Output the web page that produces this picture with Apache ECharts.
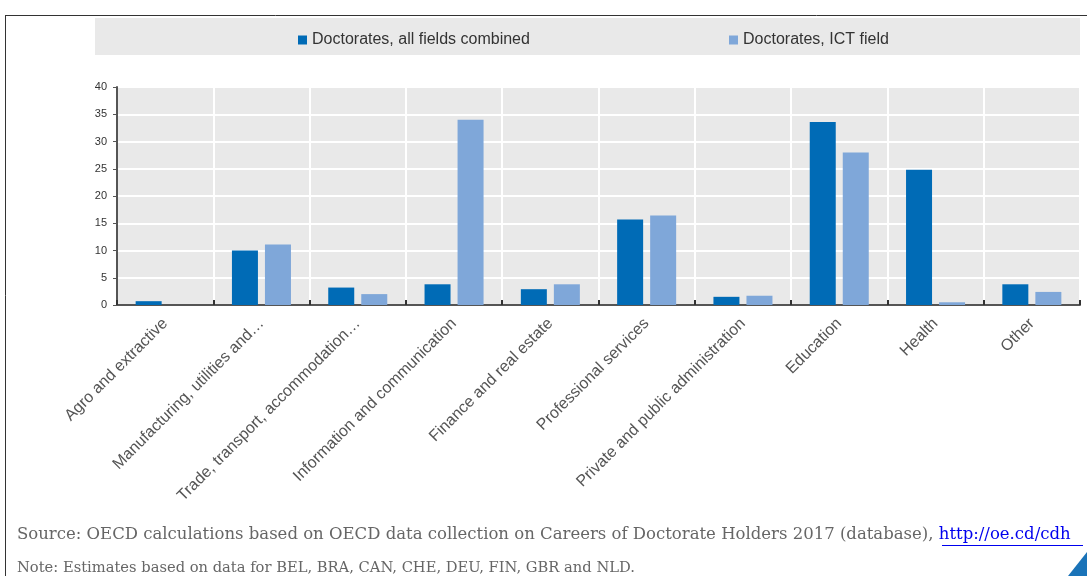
<!DOCTYPE html>
<html><head><meta charset="utf-8">
<script src="https://cdn.jsdelivr.net/npm/echarts@6/dist/echarts.min.js"></script>
<style>html,body{margin:0;padding:0;background:#fff}#c{width:1087px;height:576px}</style>
</head><body><div id="c"></div>
<script>
const categories = ["Agro and extractive","Manufacturing, utilities and\u2026","Trade, transport, accommodation\u2026","Information and communication","Finance and real estate","Professional services","Private and public administration","Education","Health","Other"];
const allFields = [0.7, 10.0, 3.2, 3.8, 2.9, 15.7, 1.5, 33.6, 24.8, 3.8];
const ictField = [0, 11.1, 2.0, 34.0, 3.8, 16.4, 1.7, 28.0, 0.5, 2.4];
const yTicks = [0, 5, 10, 15, 20, 25, 30, 35, 40];
const seriesNames = ["Doctorates, all fields combined", "Doctorates, ICT field"];

const chart = echarts.init(document.getElementById('c'), null, {renderer: 'canvas'});
const narrow = "'Liberation Sans Narrow','Arial Narrow','Liberation Sans',Arial,sans-serif";
chart.setOption({
  animation: false,
  backgroundColor: '#fff',
  graphic: [
    {type: 'line', shape: {x1: 5, y1: 15.5, x2: 1087, y2: 15.5}, style: {stroke: '#333', lineWidth: 1}},
    {type: 'line', shape: {x1: 5.5, y1: 15, x2: 5.5, y2: 576}, style: {stroke: '#333', lineWidth: 1}},
    {type: 'rect', shape: {x: 95, y: 18, width: 985, height: 37}, style: {fill: '#e9e9e9'}, z: -10},
    {type: 'text', left: 17, top: 526, style: {
      rich: {a: {fill: '#666', font: "16.5px 'DejaVu Serif', Georgia, serif"}, b: {fill: '#0000ee', font: "16.5px 'DejaVu Serif', Georgia, serif", textDecoration: 'underline'}},
      text: '{a|Source: OECD calculations based on OECD data collection on Careers of Doctorate Holders 2017 (database), }{b|http://oe.cd/cdh}'
    }},
    {type: 'line', shape: {x1: 942, y1: 545.5, x2: 1083, y2: 545.5}, style: {stroke: '#0000ee', lineWidth: 1}},
    {type: 'text', left: 17, top: 561, style: {fill: '#666', font: "14.7px 'DejaVu Serif', Georgia, serif", text: 'Note: Estimates based on data for BEL, BRA, CAN, CHE, DEU, FIN, GBR and NLD.'}},
    {type: 'polygon', shape: {points: [[1087, 552], [1087, 576], [1068, 576]]}, style: {fill: '#1a73b8'}}
  ],
  legend: [
    {data: [seriesNames[0]], left: 293, top: 27, itemWidth: 9, itemHeight: 9, icon: 'rect', itemGap: 6,
     textStyle: {fontFamily: narrow, fontSize: 16, color: '#333'}},
    {data: [seriesNames[1]], left: 724, top: 27, itemWidth: 9, itemHeight: 9, icon: 'rect', itemGap: 6,
     textStyle: {fontFamily: narrow, fontSize: 16, color: '#333'}}
  ],
  grid: {left: 117, right: 7, top: 87, bottom: 271, backgroundColor: '#e9e9e9', show: true, borderWidth: 0},
  xAxis: {
    type: 'category', data: categories,
    axisLine: {lineStyle: {color: '#555', width: 2}},
    axisTick: {show: true, inside: true, length: 5, lineStyle: {color: '#333', width: 2}},
    splitLine: {show: true, lineStyle: {color: '#fff', width: 2}},
    axisLabel: {rotate: 45, interval: 0, margin: 16, color: '#555', fontSize: 16, fontFamily: "'Liberation Sans',Arial,sans-serif"}
  },
  yAxis: {
    type: 'value', min: 0, max: 40, interval: 5,
    axisLine: {show: true, lineStyle: {color: '#555', width: 2}},
    axisTick: {show: true, length: 4, lineStyle: {color: '#555'}},
    splitLine: {show: true, lineStyle: {color: '#fff', width: 2}},
    axisLabel: {color: '#333', fontSize: 11, margin: 10, fontFamily: "'Liberation Sans',Arial,sans-serif",
      formatter: v => yTicks.includes(v) ? String(v) : ''}
  },
  series: [
    {name: seriesNames[0], type: 'bar', data: allFields, barWidth: 26, barGap: '27%', itemStyle: {color: '#006bb6'}},
    {name: seriesNames[1], type: 'bar', data: ictField, barWidth: 26, itemStyle: {color: '#7fa7d9'}}
  ]
});
</script></body></html>
